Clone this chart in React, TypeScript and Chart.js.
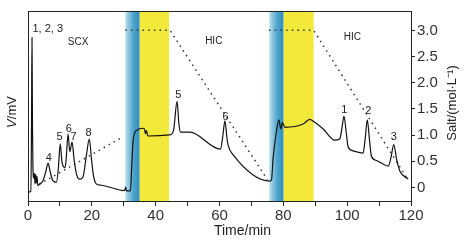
import React, { useEffect, useRef } from "react";
import { Chart, registerables } from "chart.js";

Chart.register(...registerables);

// Detector trace (V/mV, arbitrary 0-100 scale)
const traceTime = [
  0, 0.9, 1.1, 1.25, 1.4, 1.55, 1.8, 2.0, 2.2, 2.4, 2.6, 2.8, 3.1, 3.8, 4.7, 5.5, 6.3, 7.0, 7.8, 8.9,
  9.5, 10.1, 10.6, 11.0, 11.6, 12.0, 12.55, 13.1, 13.8, 14.5, 15.3, 16.2, 17.2, 18.3, 19.2, 19.9,
  20.5, 21.4, 23, 26, 29.8, 30.3, 30.6, 30.8, 32.1, 32.5, 32.9, 33.4, 34.0, 36.0, 36.5, 36.8, 37.1,
  37.6, 44.4, 45.6, 46.7, 47.3, 47.8, 50.7, 60.3, 61.0, 61.7, 62.3, 62.7, 64.3, 75.8, 76.3, 76.8,
  77.8, 78.6, 79.2, 79.7, 80.5, 86.2, 88.3, 89.5, 92.5, 96.1, 97.7, 98.4, 99.0, 99.7, 100.3, 101.9,
  105, 105.7, 106.3, 107, 107.6, 109.2, 112.9, 113.8, 114.6, 115.5, 116.5, 119.1,
];
const traceSignal = [
  4.7, 5.0, 40, 86, 40, 18, 12, 14.5, 9, 14, 9.5, 13, 8.1, 9.0, 10.7, 15, 19.9, 15, 10.7, 9.8,
  17, 30.1, 21, 18.4, 17.5, 23, 35.2, 25.9, 31, 21, 13.5, 11.5, 12.5, 24, 32.6, 22,
  13.5, 9.0, 8.3, 7.1, 5.5, 5.8, 7.3, 5.3, 5.3, 18.4, 31.1, 35.7, 37.1, 38.3, 37.8, 35.4, 37.1,
  34.2, 34.8, 37.2, 52.4, 40.3, 36.2, 36.2, 27.3, 33.7, 42.2, 33.7, 29.4, 24.3, 10.5, 11.2, 22.6,
  36.2, 42.7, 37.9, 41.3, 38.8, 40.5, 43.0, 41.8, 37.9, 32.0, 32.8, 38.8, 44.7, 36.2, 28.6, 26.4,
  25.2, 33.7, 42.7, 32.1, 23.5, 21.3, 18.4, 23.5, 29.7, 21.9, 15.8, 11.6,
];

// Salt gradient (mol/L); null breaks the line
const saltTime = [3.5, 29, 29.5, 30.5, 44.5, 75, 75.3, 75.5, 89.5, 119];
const saltValue = [0.06, 0.94, null, 3.0, 3.0, 0.15, null, 3.0, 3.0, 0.15];

const saltTicks = [0, 0.5, 1.0, 1.5, 2.0, 2.5, 3.0];

// Shaded steps (min)
const blueBands = [[30.5, 35.0], [75.6, 80.1]];
const yellowBands = [[35.0, 44.2], [80.1, 89.5]];

// Annotations: text, time, signal
const noteText = ["1, 2, 3", "SCX", "HIC", "HIC", "4", "5", "6", "7", "8", "5", "6", "1", "2", "3"];
const noteTime = [6.2, 15.7, 58.2, 101.6, 6.5, 9.9, 12.8, 14.3, 19.0, 47.1, 61.9, 99.1, 106.6, 114.6];
const noteSignal = [90.6, 83.5, 84, 86, 22.8, 33.5, 38.1, 33.5, 36, 56, 44.2, 47.9, 47.6, 33.5];

const FONT = '"Liberation Sans", Arial, Helvetica, sans-serif';

export default function App() {
  const ref = useRef<HTMLCanvasElement | null>(null);

  useEffect(() => {
    if (!ref.current) return;

    const decor = {
      id: "decor",
      beforeDatasetsDraw(chart: any) {
        const { ctx, chartArea: a, scales } = chart;
        const x = scales.x;
        ctx.save();
        ctx.beginPath();
        ctx.rect(a.left, a.top, a.right - a.left, a.bottom - a.top);
        ctx.clip();
        blueBands.forEach(([s, e]) => {
          const x0 = x.getPixelForValue(s);
          const x1 = x.getPixelForValue(e);
          const g = ctx.createLinearGradient(x0, 0, x1, 0);
          g.addColorStop(0, "#bcdeec");
          g.addColorStop(0.55, "#4ea5cd");
          g.addColorStop(1, "#2d8cbe");
          ctx.fillStyle = g;
          ctx.fillRect(x0, a.top, x1 - x0, a.bottom - a.top);
        });
        yellowBands.forEach(([s, e]) => {
          const x0 = x.getPixelForValue(s);
          const x1 = x.getPixelForValue(e);
          ctx.fillStyle = "#f3e93a";
          ctx.fillRect(x0, a.top, x1 - x0, a.bottom - a.top);
        });
        ctx.restore();
      },
      afterDraw(chart: any) {
        const { ctx, chartArea: a, scales } = chart;
        ctx.save();
        // top frame line
        ctx.strokeStyle = "#222";
        ctx.lineWidth = 1;
        ctx.beginPath();
        ctx.moveTo(a.left, a.top + 0.5);
        ctx.lineTo(a.right, a.top + 0.5);
        ctx.stroke();

        // annotations
        ctx.fillStyle = "#222";
        ctx.textAlign = "center";
        ctx.textBaseline = "middle";
        noteText.forEach((t, i) => {
          const px = scales.x.getPixelForValue(noteTime[i]);
          const py = scales.y.getPixelForValue(noteSignal[i]);
          ctx.font = `${t.length > 1 && t !== "1, 2, 3" ? 10 : 11}px ${FONT}`;
          ctx.fillText(t, px, py);
        });

        // axis titles
        ctx.fillStyle = "#222";
        ctx.font = `14px ${FONT}`;
        ctx.fillText("Time/min", (a.left + a.right) / 2 + 23, 231);

        ctx.save();
        ctx.translate(12, 112);
        ctx.rotate(-Math.PI / 2);
        ctx.textAlign = "left";
        ctx.font = `italic 13px ${FONT}`;
        const w1 = ctx.measureText("V").width;
        ctx.font = `13px ${FONT}`;
        const w2 = ctx.measureText("/mV").width;
        const start = -(w1 + w2) / 2;
        ctx.font = `italic 13px ${FONT}`;
        ctx.fillText("V", start, 0);
        ctx.font = `13px ${FONT}`;
        ctx.fillText("/mV", start + w1, 0);
        ctx.restore();

        ctx.save();
        ctx.translate(452, 103);
        ctx.rotate(-Math.PI / 2);
        ctx.font = `13px ${FONT}`;
        ctx.fillText("Salt/(mol·L⁻¹)", 0, 0);
        ctx.restore();
        ctx.restore();
      },
    };

    const chart = new Chart(ref.current, {
      type: "line",
      data: {
        datasets: [
          {
            data: traceTime.map((t, i) => ({ x: t, y: traceSignal[i] })),
            yAxisID: "y",
            borderColor: "#111",
            borderWidth: 1.2,
            pointRadius: 0,
            cubicInterpolationMode: "monotone",
          },
          {
            data: saltTime.map((t, i) => ({ x: t, y: saltValue[i] })),
            yAxisID: "y2",
            borderColor: "#333",
            borderWidth: 1.5,
            borderDash: [1.5, 4.2],
            pointRadius: 0,
            spanGaps: false,
            tension: 0,
          },
        ],
      },
      options: {
        animation: false,
        responsive: false,
        maintainAspectRatio: false,
        layout: { padding: { top: 4, left: 0, right: 0, bottom: 0 } },
        plugins: { legend: { display: false }, tooltip: { enabled: false } },
        scales: {
          x: {
            type: "linear",
            min: 0,
            max: 120,
            afterFit: (s: any) => {
              s.height = 41;
            },
            afterBuildTicks: (s: any) => {
              s.ticks = Array.from({ length: 13 }, (_, i) => ({ value: i * 10 }));
            },
            ticks: {
              autoSkip: false,
              maxRotation: 0,
              padding: 1,
              color: "#333",
              font: { family: FONT, size: 15 },
              callback: (v: any) => (Number(v) % 20 === 0 ? String(v) : ""),
            },
            grid: { drawOnChartArea: false, tickLength: 5, color: "#222" },
            border: { color: "#222", width: 1 },
          },
          y: {
            position: "left",
            min: 0,
            max: 100,
            afterFit: (s: any) => {
              s.width = 28;
            },
            ticks: { display: false },
            grid: { display: false },
            border: { display: true, color: "#222", width: 1 },
          },
          y2: {
            position: "right",
            min: -0.26,
            max: 3.37,
            afterFit: (s: any) => {
              s.width = 60;
            },
            afterBuildTicks: (s: any) => {
              s.ticks = saltTicks.map((v) => ({ value: v }));
            },
            ticks: {
              padding: 2,
              color: "#333",
              font: { family: FONT, size: 15 },
              callback: (v: any) => (Number(v) === 0 ? "0" : Number(v).toFixed(1)),
            },
            grid: { drawOnChartArea: false, tickLength: 4, color: "#222" },
            border: { color: "#222", width: 1 },
          },
        },
      },
      plugins: [decor],
    } as any);

    return () => chart.destroy();
  }, []);

  return (
    <div style={{ position: "fixed", left: 0, top: 0, width: 471, height: 242, background: "#fff" }}>
      <canvas ref={ref} width={471} height={242} style={{ width: 471, height: 242 }} />
    </div>
  );
}
